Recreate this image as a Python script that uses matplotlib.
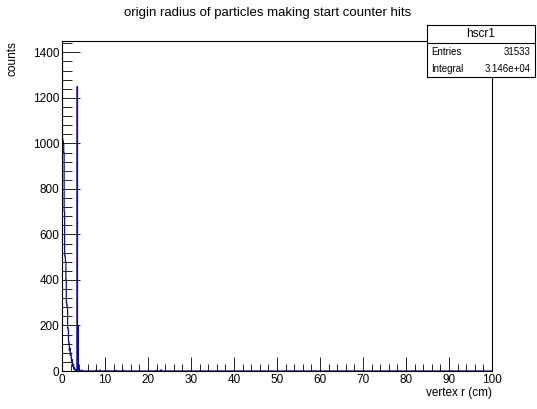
import numpy as np
import matplotlib
matplotlib.use("Agg")
import matplotlib.pyplot as plt
from matplotlib.ticker import MultipleLocator

plt.rcParams['font.family'] = ['Liberation Sans', 'DejaVu Sans']

# histogram: 1000 bins of 0.1 cm over 0-100 cm
bin_width = 0.1
x_min, x_max = 0.0, 100.0
# non-zero bin contents (bin lower edge in cm -> counts)
bin_lo = [0.0, 0.1, 0.2, 0.3, 0.4, 0.5, 0.6, 0.7, 0.8, 0.9,
          1.0, 1.1, 1.2, 1.3, 1.4, 1.5, 1.6, 1.7, 1.8, 1.9,
          2.0, 2.1, 2.2, 2.3, 2.4, 2.5, 2.6, 2.7, 2.8, 2.9,
          3.0, 3.1, 3.2, 3.3, 3.5, 3.6, 3.7, 3.8, 3.9, 4.0,
          4.1, 4.6, 7.9, 8.8, 12.5, 14.2, 21.9, 23.0]
counts = [1380, 1020, 1010, 1000, 960, 700, 510, 500, 480, 400,
          300, 290, 280, 190, 180, 130, 120, 90, 100, 70,
          80, 60, 40, 50, 30, 20, 30, 10, 15, 5,
          8, 3, 5, 2, 1250, 5, 200, 10, 3, 5,
          2, 4, 3, 4, 2, 3, 3, 5]

title = "origin radius of particles making start counter hits"
xlabel = "vertex r (cm)"
ylabel = "counts"
stat_name = "hscr1"
stat_entries = "31533"
stat_integral = "3.146e+04"

nbins = int(round((x_max - x_min) / bin_width))
edges = np.linspace(x_min, x_max, nbins + 1)
vals = np.zeros(nbins)
for lo, c in zip(bin_lo, counts):
    vals[int(round((lo - x_min) / bin_width))] = c

W, H = 537, 409
fig = plt.figure(figsize=(W / 100, H / 100), dpi=100)
ax = fig.add_axes([62 / W, 1 - 371 / H, 430 / W, 330 / H])

ax.stairs(vals, edges, color='#0a0a9a', linewidth=0.9)

ax.set_xlim(x_min, x_max)
ax.set_ylim(0, 1450)

ax.xaxis.set_major_locator(MultipleLocator(10))
ax.xaxis.set_minor_locator(MultipleLocator(2))
ax.yaxis.set_major_locator(MultipleLocator(200))
ax.yaxis.set_minor_locator(MultipleLocator(40))
ax.tick_params(axis='both', which='both', direction='in', top=False, right=False,
               labelsize=8.5, color='black')
ax.tick_params(axis='y', which='major', length=13, width=0.6)
ax.tick_params(axis='y', which='minor', length=7, width=0.6)
ax.tick_params(axis='x', which='major', length=10, width=0.6)
ax.tick_params(axis='x', which='minor', length=5, width=0.6)
ax.tick_params(axis='x', which='both', pad=2)
ax.tick_params(axis='y', which='both', pad=2)
for s in ax.spines.values():
    s.set_linewidth(0.8)

fig.text(268 / W, 1 - 13 / H, title, ha='center', va='center', fontsize=9.5)
fig.text(492 / W, 1 - 393 / H, xlabel, ha='right', va='center', fontsize=8.5)
fig.text(13 / W, 1 - 41 / H, ylabel, ha='center', va='top', rotation=90, fontsize=8.5)

# stats box
bx0, bx1, by0, by1, bym = 427, 535, 25, 77, 43
box = fig.add_axes([bx0 / W, 1 - by1 / H, (bx1 - bx0) / W, (by1 - by0) / H])
box.set_xlim(0, 1)
box.set_ylim(0, 1)
box.set_xticks([])
box.set_yticks([])
for s in box.spines.values():
    s.set_linewidth(0.8)
yr = (by1 - bym) / (by1 - by0)
box.axhline(yr, color='black', linewidth=0.8)
box.text(0.5, (1 + yr) / 2, stat_name, ha='center', va='center', fontsize=8.5)
box.text(0.04, yr * 0.73, "Entries", ha='left', va='center', fontsize=7)
box.text(0.96, yr * 0.73, stat_entries, ha='right', va='center', fontsize=7)
box.text(0.04, yr * 0.25, "Integral", ha='left', va='center', fontsize=7)
box.text(0.96, yr * 0.25, stat_integral, ha='right', va='center', fontsize=7)

fig.savefig("out.png", dpi=100)
